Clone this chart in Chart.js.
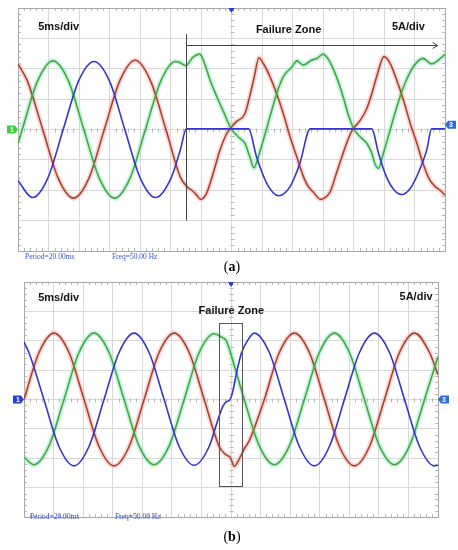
<!DOCTYPE html>
<html>
<head>
<meta charset="utf-8">
<script src="https://cdn.jsdelivr.net/npm/chart.js@4.4.1/dist/chart.umd.min.js"></script>
<style>
  body { margin: 0; background: #fff; width: 458px; height: 550px; position: relative; overflow: hidden; }
  canvas { position: absolute; left: 0; }
  #chartA { top: 0; }
  #chartB { top: 270px; }
  .cap { position: absolute; left: 6px; width: 452px; text-align: center; font: 14px "Liberation Serif", serif; color: #000; }
</style>
</head>
<body>
<canvas id="chartA" width="458" height="262"></canvas>
<canvas id="chartB" width="458" height="275"></canvas>
<div class="cap" style="top:259px">(<b>a</b>)</div>
<div class="cap" style="top:529px">(<b>b</b>)</div>
<script>
// time in ms (5 ms/div), current in A (5 A/div) - [t, i] pairs

// (a) open-phase fault from ~27.5 ms
const aRed = [[0,10.8],[1.53,8.0],[4.05,0],[6.58,-8.0],[9.1,-11.3],[11.63,-8.0],[14.15,0],[16.68,8.0],[19.2,11.4],[21.73,8.0],[24.25,0],[26.6,-7.8],[27.7,-9.4],[28.5,-10.0],[29.3,-10.8],[29.9,-11.5],[30.9,-10.5],[32.0,-7.2],[33.1,-3.4],[34.2,-0.7],[34.9,0.3],[35.8,1.3],[37.2,2.6],[38.0,5.5],[38.7,8.5],[39.5,11.8],[40.2,10.9],[41.3,8.7],[42.4,5.9],[43.5,2.6],[44.6,-1.2],[45.7,-4.5],[46.8,-7.8],[47.6,-9.4],[48.4,-10.3],[49.6,-11.5],[50.6,-11.0],[51.2,-10.2],[52.2,-7.2],[53.3,-3.9],[54.4,-0.9],[55.0,0.2],[56.1,1.5],[57.2,3.5],[58.0,5.9],[58.8,8.7],[60.0,12.0],[61.0,10.9],[62.1,8.1],[63.2,4.8],[64.3,1.0],[65.4,-2.3],[66.4,-5.6],[67.5,-8.3],[68.4,-9.4],[69.2,-10.0],[70,-10.8]];
const aGreen = [[0,-2.2],[0.69,0],[3.22,8.0],[5.74,11.3],[8.27,8.0],[10.79,0],[13.32,-8.0],[15.84,-11.3],[18.37,-8.0],[20.89,0],[23.42,8.0],[25.8,11.2],[26.6,11.0],[27.5,10.5],[28.7,11.9],[29.8,12.4],[30.6,10.8],[31.5,8.1],[32.6,5.4],[33.7,2.9],[34.9,0.2],[36.1,-1.2],[37.2,-2.3],[38.0,-4.5],[38.7,-6.3],[39.4,-4.5],[40.2,-1.8],[41.3,2.1],[42.4,5.9],[43.5,8.7],[44.9,10.3],[45.7,11.3],[46.8,10.6],[48.1,11.4],[49.0,11.7],[50.0,12.4],[50.7,11.8],[51.4,10.6],[52.2,8.7],[53.3,5.4],[54.1,2.6],[55.0,0.2],[56.1,-1.2],[57.2,-2.3],[58.0,-3.9],[58.5,-5.6],[59.1,-6.4],[59.9,-3.9],[61.0,-0.1],[62.1,3.7],[63.2,7.0],[64.3,9.5],[65.4,11.1],[66.4,11.7],[67.8,10.8],[68.9,11.4],[70,12.4]];
const aBlue = [[0,-8.4],[2.36,-11.2],[4.89,-8.0],[7.41,0],[9.94,8.0],[12.46,11.2],[14.99,8.0],[17.51,0],[20.04,-8.0],[22.56,-11.2],[25.09,-8.0],[26.6,-3.4],[27.6,0.1],[37.8,0.1],[39.1,-4.5],[40.8,-8.9],[42.7,-10.9],[44.6,-9.4],[46.2,-5.6],[47.9,0.1],[58.0,0.1],[59.1,-3.9],[60.4,-7.8],[61.7,-10.0],[62.9,-10.7],[64.3,-9.7],[65.6,-7.2],[67.0,-3.4],[67.8,0.1],[70,0.1]];

// (b) short disturbance around 33-37 ms
const bRed = [[0,0],[2.54,8.0],[5.07,11.3],[7.61,8.0],[10.15,0],[12.69,-8.0],[15.23,-11.3],[17.77,-8.0],[20.31,0],[22.85,8.0],[25.39,11.3],[27.93,8.0],[30.47,0],[33.01,-8.0],[34.0,-9.3],[34.9,-9.9],[35.55,-11.4],[36.2,-10.5],[37.3,-8.3],[38.1,-7.0],[39.0,-4.7],[40.63,0],[43.17,8.0],[45.71,11.3],[48.25,8.0],[50.79,0],[53.33,-8.0],[55.87,-11.3],[58.41,-8.0],[60.95,0],[63.49,8.0],[66.03,11.3],[68.57,8.0],[70,4.2]];
const bGreen = [[0,-9.8],[1.68,-11.1],[4.22,-7.9],[6.76,0],[9.3,8.0],[11.84,11.3],[14.38,8.0],[16.92,0],[19.46,-7.9],[22.0,-11.1],[24.54,-7.9],[27.08,0],[29.62,8.0],[32.16,11.2],[33.4,10.6],[34.2,10.0],[35.6,5.6],[37.24,0],[39.78,-7.9],[42.32,-11.1],[44.86,-7.9],[47.4,0],[49.94,8.0],[52.48,11.3],[55.02,8.0],[57.56,0],[60.1,-7.9],[62.64,-11.1],[65.18,-7.9],[67.72,0],[70,7.3]];
const bBlue = [[0,9.8],[0.83,8.0],[3.37,0],[5.91,-8.0],[8.45,-11.3],[10.99,-8.0],[13.53,0],[16.07,8.0],[18.61,11.3],[21.15,8.0],[23.69,0],[26.23,-8.0],[28.77,-11.2],[31.31,-8.0],[32.55,-4.2],[33.6,-1.2],[34.2,-0.4],[34.8,-0.1],[35.35,1.6],[35.93,4.5],[36.77,7.9],[37.89,10.2],[38.94,11.3],[41.48,8.0],[44.02,0],[46.56,-8.0],[49.1,-11.3],[51.64,-8.0],[54.18,0],[56.72,8.0],[59.26,11.3],[61.8,8.0],[64.34,0],[66.88,-8.0],[69.42,-11.3],[70,-11.2]];

const T_MIN = 0, T_MAX = 70, T_DIV = 5;
const I_MIN = -20, I_MAX = 20, I_DIV = 5;

function tag(ctx, px, py, dir, fill, label) {
  // little channel marker like on the scope screen
  ctx.save();
  ctx.fillStyle = fill;
  ctx.beginPath();
  if (dir > 0) {
    ctx.moveTo(px - 11, py - 4); ctx.lineTo(px - 3, py - 4); ctx.lineTo(px, py);
    ctx.lineTo(px - 3, py + 4); ctx.lineTo(px - 11, py + 4);
  } else {
    ctx.moveTo(px + 11, py - 4); ctx.lineTo(px + 3, py - 4); ctx.lineTo(px, py);
    ctx.lineTo(px + 3, py + 4); ctx.lineTo(px + 11, py + 4);
  }
  ctx.closePath();
  ctx.fill();
  ctx.fillStyle = '#fff';
  ctx.font = 'bold 7px "Liberation Sans"';
  ctx.textAlign = 'center';
  ctx.textBaseline = 'middle';
  ctx.fillText(label, px + (dir > 0 ? -6 : 6), py + 0.5);
  ctx.restore();
}

const decor = {
  id: 'decor',
  beforeDatasetsDraw(chart) {
    const { ctx, chartArea: a, scales: { x, y } } = chart;
    ctx.save();
    ctx.strokeStyle = '#b8b8b8';
    ctx.lineWidth = 1;
    ctx.beginPath();
    const cx = Math.round(x.getPixelForValue((T_MIN + T_MAX) / 2)) + 0.5;
    const cy = Math.round(y.getPixelForValue(0)) + 0.5;
    for (let t = T_MIN + 1; t < T_MAX; t++) {
      if (t % T_DIV === 0) continue;
      const px = Math.round(x.getPixelForValue(t)) + 0.5;
      ctx.moveTo(px, cy - 2); ctx.lineTo(px, cy + 2);
      ctx.moveTo(px, a.top); ctx.lineTo(px, a.top + 3);
      ctx.moveTo(px, a.bottom); ctx.lineTo(px, a.bottom - 3);
    }
    for (let i = I_MIN + 1; i < I_MAX; i++) {
      if (i % I_DIV === 0) continue;
      const py = Math.round(y.getPixelForValue(i)) + 0.5;
      ctx.moveTo(cx - 2, py); ctx.lineTo(cx + 2, py);
      ctx.moveTo(a.left, py); ctx.lineTo(a.left + 3, py);
      ctx.moveTo(a.right, py); ctx.lineTo(a.right - 3, py);
    }
    ctx.stroke();
    ctx.strokeStyle = '#a8a8a8';
    ctx.strokeRect(Math.round(a.left) + 0.5, Math.round(a.top) + 0.5, Math.round(a.right - a.left), Math.round(a.bottom - a.top));
    ctx.restore();
  },
  afterDatasetsDraw(chart, args, o) {
    const { ctx, chartArea: a, scales: { x, y } } = chart;
    const X = v => x.getPixelForValue(v), Y = v => y.getPixelForValue(v);
    ctx.save();
    ctx.strokeStyle = '#444';
    ctx.lineWidth = 1;
    if (o.zoneLine) {
      const z = o.zoneLine;
      const px = Math.round(X(z.t)) + 0.5;
      ctx.beginPath();
      ctx.moveTo(px, Y(z.top)); ctx.lineTo(px, Y(z.bottom));
      const ay = Math.round(Y(z.arrow)) + 0.5, tip = X(z.end);
      ctx.moveTo(px, ay); ctx.lineTo(tip, ay);
      ctx.moveTo(tip - 5, ay - 3); ctx.lineTo(tip, ay); ctx.lineTo(tip - 5, ay + 3);
      ctx.stroke();
    }
    if (o.zoneBox) {
      const b = o.zoneBox;
      const l = Math.round(X(b.from)) + 0.5, r = Math.round(X(b.to)) + 0.5;
      const t = Math.round(Y(b.top)) + 0.5, bt = Math.round(Y(b.bottom)) + 0.5;
      ctx.strokeStyle = '#555';
      ctx.strokeRect(l, t, r - l, bt - t);
    }
    for (const s of o.texts) {
      ctx.font = s.font;
      ctx.fillStyle = s.color;
      ctx.textAlign = s.align || 'left';
      ctx.textBaseline = 'middle';
      ctx.fillText(s.text, X(s.t), Y(s.i));
    }
    // channel / trigger markers
    const y0 = Y(0);
    tag(ctx, a.left, y0, 1, o.leftTag, '1');
    tag(ctx, a.right, Y(o.rightTagAt), -1, '#2a6ee0', '3');
    const mx = X((T_MIN + T_MAX) / 2);
    ctx.fillStyle = '#2a3fd8';
    ctx.beginPath();
    ctx.moveTo(mx - 3, a.top); ctx.lineTo(mx + 3, a.top); ctx.lineTo(mx, a.top + 5);
    ctx.closePath();
    ctx.fill();
    ctx.fillRect(mx - 2, a.top + 1, 4, 2);
    ctx.restore();
  }
};

const labelFont = 'bold 11px "Liberation Sans", Arial, sans-serif';
const infoFont = '7.5px "Liberation Serif", serif';
const infoColor = '#3a52d6';

function makeChart(id, red, green, blue, pad, decorOpts) {
  const pts = s => s.map(p => ({ x: p[0], y: p[1] }));
  const trace = (data, color, width, order) => ({
    data: pts(data), borderColor: color, borderWidth: width, pointRadius: 0,
    cubicInterpolationMode: 'monotone', fill: false, order
  });
  return new Chart(document.getElementById(id), {
    type: 'line',
    data: {
      datasets: [
        trace(blue, '#3333d6', 1.6, 0),
        trace(green, '#4ea43a', 1.6, 1),
        trace(red, '#a6452c', 1.6, 2),
        trace(green, 'rgba(150,238,205,0.55)', 5, 3),
        trace(red, 'rgba(248,182,182,0.55)', 5, 4)
      ]
    },
    options: {
      responsive: false,
      animation: false,
      devicePixelRatio: 1,
      layout: { padding: pad },
      plugins: { legend: { display: false }, tooltip: { enabled: false }, decor: decorOpts },
      scales: {
        x: {
          type: 'linear', min: T_MIN, max: T_MAX,
          ticks: { display: false, stepSize: T_DIV },
          grid: { color: '#d8d8d8', drawTicks: false },
          border: { color: '#a8a8a8' }
        },
        y: {
          type: 'linear', min: I_MIN, max: I_MAX,
          ticks: { display: false, stepSize: I_DIV },
          grid: { color: '#d8d8d8', drawTicks: false },
          border: { color: '#a8a8a8' }
        }
      }
    },
    plugins: [decor]
  });
}

makeChart('chartA', aRed, aGreen, aBlue, { left: 18, top: 8, right: 13, bottom: 11 }, {
  leftTag: '#3fcf3f',
  rightTagAt: 0.8,
  zoneLine: { t: 27.5, top: 15.7, bottom: -15.0, arrow: 13.9, end: 68.8 },
  texts: [
    { text: '5ms/div', t: 3.3, i: 16.9, font: labelFont, color: '#111' },
    { text: '5A/div', t: 61.3, i: 16.9, font: labelFont, color: '#111' },
    { text: 'Failure Zone', t: 39.0, i: 16.4, font: labelFont, color: '#111' },
    { text: 'Period=20.00ms', t: 1.15, i: -21.0, font: infoFont, color: infoColor },
    { text: 'Freq=50.00 Hz', t: 15.4, i: -21.0, font: infoFont, color: infoColor }
  ]
});

makeChart('chartB', bRed, bGreen, bBlue, { left: 24, top: 12, right: 20, bottom: 28 }, {
  leftTag: '#2a3fd8',
  rightTagAt: 0,
  zoneBox: { from: 32.94, to: 36.82, top: 13.0, bottom: -14.7 },
  texts: [
    { text: '5ms/div', t: 2.4, i: 17.3, font: labelFont, color: '#111' },
    { text: '5A/div', t: 63.5, i: 17.4, font: labelFont, color: '#111' },
    { text: 'Failure Zone', t: 35.05, i: 15.1, font: labelFont, color: '#111', align: 'center' },
    { text: 'Period=20.00ms', t: 1.0, i: -20.0, font: infoFont, color: infoColor },
    { text: 'Freq=50.00 Hz', t: 15.4, i: -20.0, font: infoFont, color: infoColor }
  ]
});
</script>
</body>
</html>
